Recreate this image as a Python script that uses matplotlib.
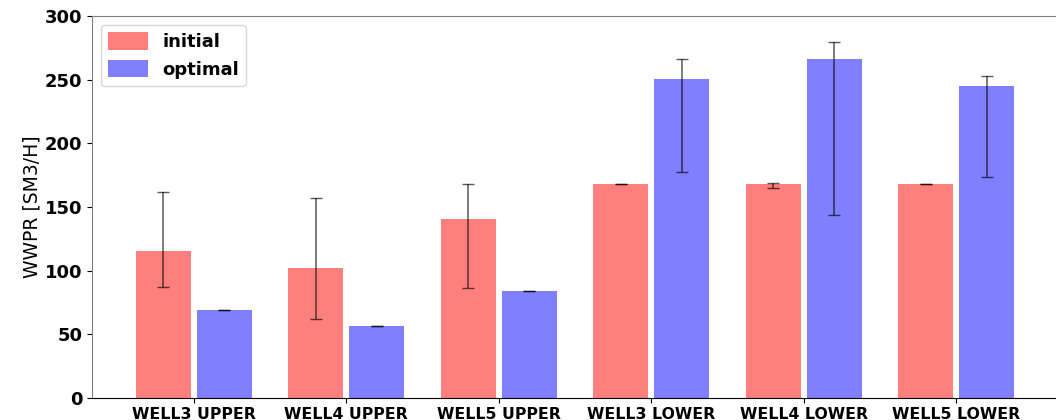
import numpy as np
import matplotlib
matplotlib.use("Agg")
import matplotlib.pyplot as plt

wells = ['WELL3 UPPER', 'WELL4 UPPER', 'WELL5 UPPER', 'WELL3 LOWER', 'WELL4 LOWER', 'WELL5 LOWER']

initial = [115.5, 102.4, 140.9, 168.1, 168.1, 168.1]
initial_lo = [87.0, 61.8, 86.1, 168.0, 164.7, 168.0]
initial_hi = [161.8, 156.9, 168.3, 168.2, 168.5, 168.2]

optimal = [69.1, 56.8, 84.3, 250.3, 266.3, 245.3]
optimal_lo = [69.0, 56.7, 84.2, 177.8, 144.0, 173.6]
optimal_hi = [69.2, 56.9, 84.4, 266.0, 279.3, 252.7]

x = np.arange(len(wells))
w = 0.36

init_err = [np.array(initial) - np.array(initial_lo), np.array(initial_hi) - np.array(initial)]
opt_err = [np.array(optimal) - np.array(optimal_lo), np.array(optimal_hi) - np.array(optimal)]

fig = plt.figure(figsize=(10.56, 4.2), dpi=100)
ax = fig.add_axes([92/1056, 22/420, 966/1056, 382/420])

ax.bar(x - 0.2, initial, w, color='red', alpha=0.5, label='initial',
       yerr=init_err, error_kw=dict(ecolor='black', alpha=0.65, capsize=4, lw=1.1))
ax.bar(x + 0.2, optimal, w, color='blue', alpha=0.5, label='optimal',
       yerr=opt_err, error_kw=dict(ecolor='black', alpha=0.65, capsize=4, lw=1.1))

ax.set_xlim(-0.667, 5.667)
ax.set_ylim(0, 300)
ax.set_xticks(x)
ax.set_xticklabels(wells, fontsize=11.3, fontweight='bold')
ax.tick_params(axis='x', pad=3)
ax.set_yticks([0, 50, 100, 150, 200, 250, 300])
ax.set_yticklabels(['0', '50', '100', '150', '200', '250', '300'], fontsize=13, fontweight='bold')
ax.set_ylabel('WWPR [SM3/H]', fontsize=13.5, labelpad=2)

for s in ['left', 'top', 'right']:
    ax.spines[s].set_color('grey')
ax.spines['bottom'].set_color('black')

ax.legend(loc='upper left', prop={'weight': 'bold', 'size': 13},
          handlelength=2.2, handleheight=1.1)

fig.savefig('out.png', dpi=100)
